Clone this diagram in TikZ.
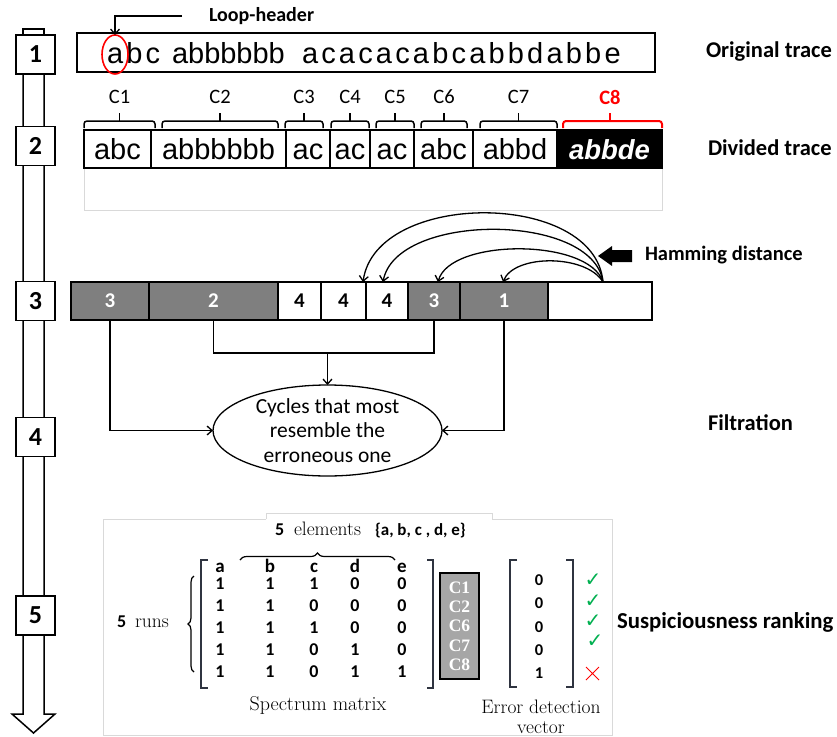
\documentclass[tikz,border=0pt]{standalone}
\usepackage{fontspec}
\newfontfamily\carl{Carlito}
\newfontfamily\ari{Liberation Sans}
\newfontfamily\arisp[LetterSpace=11]{Liberation Sans}
\newfontfamily\tnr{Liberation Serif}
\newfontfamily\dvs{DejaVu Sans}
\usetikzlibrary{arrows.meta,decorations.pathreplacing,shapes.geometric}
\definecolor{cellgray}{HTML}{7F7F7F}
\definecolor{cboxgray}{HTML}{A6A6A6}
\definecolor{panelgray}{HTML}{D9D9D9}
\definecolor{okgreen}{HTML}{00B050}
\definecolor{brkcol}{HTML}{2F3440}
\tikzset{
  every node/.style={inner sep=0pt, outer sep=0pt},
  lab/.style={anchor=west, font=\carl\bfseries\fontsize{22.5}{26}\selectfont},
  stepbox/.style={draw, line width=1.5pt, fill=white, minimum width=39pt, minimum height=39pt, font=\carl\bfseries\fontsize{26}{28}\selectfont},
  tcell/.style={draw, line width=1.5pt, minimum height=38pt, text height=20pt, text depth=0pt, anchor=west, font=\ari\fontsize{29}{30}\selectfont},
  hcell/.style={draw, line width=1.5pt, minimum height=38pt, anchor=west, font=\carl\bfseries\fontsize{21}{24}\selectfont},
  gcell/.style={hcell, fill=cellgray, text=white},
  clab/.style={font=\carl\fontsize{20.5}{24}\selectfont},
  brk/.style={line width=1.5pt, rounded corners=3pt},
  conn/.style={line width=1.3pt, -{Straight Barb[length=5pt,width=9pt]}},
  plain/.style={line width=1.3pt},
  mnum/.style={font=\carl\bfseries\fontsize{18}{20}\selectfont},
  serif/.style={font=\fontsize{19.5}{21}\selectfont},
  panel/.style={draw=panelgray, line width=0.8pt},
  mbrk/.style={draw=brkcol, line width=1.3pt},
  ckm/.style={font=\dvs\fontsize{20}{22}\selectfont, text=okgreen},
}
\begin{document}
\begin{tikzpicture}[x=1pt,y=-1pt]
\fill[white] (0,0) rectangle (837,736);
\useasboundingbox (0,0) rectangle (837,736);

% ---------- left process arrow ----------
\draw[line width=1.5pt, fill=white] (23,29) rectangle (44,35);
\draw[line width=1.5pt, line join=miter] (23,35) -- (23,714) -- (12,714) -- (33.5,733) -- (55,714) -- (44,714) -- (44,35);
\node[stepbox] (s1) at (35.5,54.5) {1};
\node[stepbox] (s2) at (35.5,146) {2};
\node[stepbox] (s3) at (35.5,301) {3};
\node[stepbox] (s4) at (35.5,437) {4};
\node[stepbox] (s5) at (35.5,615.5) {5};

% ---------- right labels ----------
\node[lab] (lorig) at (706,52) {Original trace};
\node[lab] (ldiv) at (708,148) {Divided trace};
\node[lab, font=\carl\bfseries\fontsize{20.5}{24}\selectfont] (lham) at (645,255) {Hamming distance};
\node[lab] (lfil) at (708,423) {Filtration};
\node[lab, font=\carl\bfseries\fontsize{22.8}{26}\selectfont] (lsus) at (617,622) {Suspiciousness ranking};

% ---------- step 1: original trace ----------
\node[draw, line width=1.5pt, anchor=north west, minimum width=578pt, minimum height=39pt] (orig) at (77,33) {};
\node[anchor=base west, font=\arisp\fontsize{29}{30}\selectfont] (tr1) at (107,63) {abc};
\node[anchor=base west, font=\ari\fontsize{29}{30}\selectfont] (tr2) at (172,63) {abbbbbb};
\node[anchor=base west, font=\arisp\fontsize{29}{30}\selectfont] (tr3) at (302,63) {acacacabcabbdabbe};
\node[draw=red, ellipse, line width=1.6pt, minimum width=26pt, minimum height=39pt] (redell) at (115,54.5) {};
\node[anchor=west, font=\carl\bfseries\fontsize{20}{24}\selectfont] (lh) at (209,16) {Loop-header};
\coordinate (lhs) at (182,16);
\draw[conn] (lhs) -| (redell.north);

% ---------- step 2: divided trace ----------
\draw[panelgray, line width=0.8pt] (84,168) rectangle (662,210);
\node[tcell, minimum width=67pt] (d1) at (84,149) {abc};
\node[tcell, minimum width=135pt] (d2) at (151,149) {abbbbbb};
\node[tcell, minimum width=44pt] (d3) at (286,149) {ac};
\node[tcell, minimum width=40pt] (d4) at (330,149) {ac};
\node[tcell, minimum width=44pt] (d5) at (370,149) {ac};
\node[tcell, minimum width=59pt] (d6) at (414,149) {abc};
\node[tcell, minimum width=84pt] (d7) at (473,149) {abbd};
\node[tcell, minimum width=105pt, fill=black, text=white, font=\ari\bfseries\itshape\fontsize{27.5}{30}\selectfont] (d8) at (557,149) {abbde};

\foreach \xa/\xb/\t/\n in {84/155/C1/c1, 162/278/C2/c2, 285/323/C3/c3, 331/369/C4/c4, 376/414/C5/c5, 421/467/C6/c6, 480/557/C7/c7}{
  \draw[brk] (\xa,128) -- (\xa,121) -- (\xb,121) -- (\xb,128);
  \draw[line width=1.5pt] ({(\xa+\xb)/2},121) -- ++(0,-8);
  \node[clab] (\n) at ({(\xa+\xb)/2},97) {\t};
}
\draw[brk, red, line width=2pt] (563,128) -- (563,121) -- (662,121) -- (662,128);
\draw[red, line width=2pt] (610,121) -- ++(0,-8);
\node[clab, text=red, font=\carl\bfseries\fontsize{20.5}{24}\selectfont] (c8) at (610,97) {C8};

% ---------- step 3: hamming distance ----------
\node[gcell, minimum width=78pt] (r1) at (71,301) {3};
\node[gcell, minimum width=129pt] (r2) at (149,301) {2};
\node[hcell, minimum width=43pt] (r3) at (278,301) {4};
\node[hcell, minimum width=45pt] (r4) at (321,301) {4};
\node[hcell, minimum width=42pt] (r5) at (366,301) {4};
\node[gcell, minimum width=52pt] (r6) at (408,301) {3};
\node[gcell, minimum width=88pt] (r7) at (460,301) {1};
\node[hcell, minimum width=104pt] (r8) at (548,301) {};

\coordinate (hs) at (603,282);
\coordinate (t4) at (363,282);
\coordinate (t5) at (383,282);
\coordinate (t6) at (438,282);
\coordinate (t7) at (503,282);
\draw[conn] (hs) .. controls (595,190) and (376,190) .. (t4);
\draw[conn] (hs) .. controls (593,212) and (396,212) .. (t5);
\draw[conn] (hs) .. controls (589,238) and (450,238) .. (t6);
\draw[conn] (hs) .. controls (586,254) and (514,254) .. (t7);

\fill (598,256) -- (612,246) -- (612,250) -- (632,250) -- (632,262) -- (612,262) -- (612,266) -- cycle;

% ---------- step 4: filtration ----------
\node[draw, ellipse, line width=1.3pt, minimum width=229pt, minimum height=91pt, align=center, font=\carl\fontsize{21.5}{24.5}\selectfont] (ell) at (327.5,430.5) {Cycles that most\\resemble the\\erroneous one};
\coordinate (jn) at (327.5,353);
\draw[conn] (r1.south) |- (ell.west);
\draw[plain] (r2.south) |- (jn) -| (r6.south);
\draw[conn] (jn) -- (ell.north);
\draw[conn] (r7.south) |- (ell.east);

% ---------- step 5: spectrum ----------
\draw[panel] (103,519) rectangle (612,735);
\fill[white] (266,513) rectangle (492,520);
\draw[panel] (266,519) -- (266,513) -- (492,513) -- (492,519);

\node[mnum, anchor=base west] (fiveE) at (275,535) {5};
\node[serif, anchor=base west] (elem) at (294,535) {elements};
\node[mnum, anchor=base west, font=\carl\bfseries\fontsize{17}{20}\selectfont] (set) at (375,535) {\{a, b, c , d, e\}};
\draw[line width=1.2pt, decorate, decoration={brace, amplitude=7pt}] (240,560) -- (395,560);

\foreach \c/\x/\t in {1/220/a,2/270/b,3/314/c,4/355/d,5/402/e}
  \node[mnum, anchor=base, font=\carl\bfseries\fontsize{19}{21}\selectfont] (h\c) at (\x,572) {\t};
\foreach \r/\y/\va/\vb/\vc/\vd/\ve in {1/584/1/1/1/0/0, 2/606/1/1/0/0/0, 3/628/1/1/1/0/0, 4/650/1/1/0/1/0, 5/672/1/1/0/1/1}{
  \node[mnum] (m\r a) at (220,\y) {\va};
  \node[mnum] (m\r b) at (270,\y) {\vb};
  \node[mnum] (m\r c) at (314,\y) {\vc};
  \node[mnum] (m\r d) at (355,\y) {\vd};
  \node[mnum] (m\r e) at (402,\y) {\ve};
}
\draw[mbrk] (208,560) -- (201,560) -- (201,688) -- (208,688);
\draw[mbrk] (427,560) -- (433,560) -- (433,688) -- (427,688);
\draw[line width=1.2pt, decorate, decoration={brace, amplitude=6pt}] (194,672) -- (194,576);
\node[mnum, anchor=base west] (fiveR) at (117,627) {5};
\node[serif, anchor=base west] (runs) at (135,627) {runs};
\node[serif, font=\fontsize{20}{22}\selectfont] (spm) at (318,705) {Spectrum matrix};

\node[draw, line width=2pt, fill=cboxgray, text=white, minimum width=39pt, minimum height=106pt, align=center, font=\tnr\bfseries\fontsize{17.5}{19.3}\selectfont] (cbox) at (459.5,626) {C1\\C2\\C6\\C7\\C8};

\draw[mbrk] (517,560) -- (510,560) -- (510,687) -- (517,687);
\draw[mbrk] (566,560) -- (573,560) -- (573,687) -- (566,687);
\foreach \i/\y/\v in {1/580/0,2/603/0,3/627/0,4/650/0,5/673/1}
  \node[mnum, font=\carl\bfseries\fontsize{16.5}{18}\selectfont] (e\i) at (539,\y) {\v};
\node[ckm] (ck1) at (593,580) {✓};
\node[ckm] (ck2) at (593,601) {✓};
\node[ckm] (ck3) at (593,621) {✓};
\node[ckm] (ck4) at (595,641) {✓};
\draw[red, line width=1pt] (586,667) -- (599,680) (586,680) -- (599,667);
\node[serif, align=center, font=\fontsize{19.5}{20}\selectfont] (edv) at (541,717) {Error detection\\vector};
\end{tikzpicture}
\end{document}
